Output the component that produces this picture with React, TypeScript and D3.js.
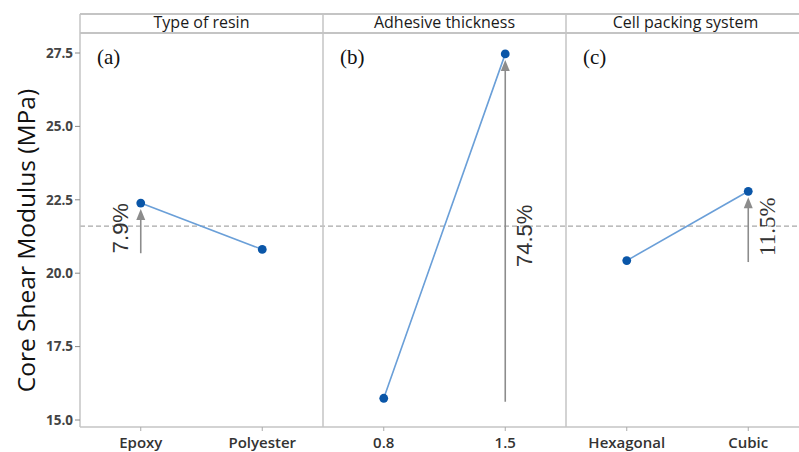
import React from "react";
import * as d3 from "d3";

const factors = ["Type of resin", "Adhesive thickness", "Cell packing system"];
const panelTags = ["(a)", "(b)", "(c)"];
const levelsResin = ["Epoxy", "Polyester"];
const meansResin = [22.39, 20.81];
const levelsThickness = ["0.8", "1.5"];
const meansThickness = [15.74, 27.47];
const levelsPacking = ["Hexagonal", "Cubic"];
const meansPacking = [20.43, 22.79];
const changeLabels = ["7.9%", "74.5%", "11.5%"];
const arrowLevel = [0, 1, 1];
const arrowFrom = [20.68, 15.62, 20.38];
const labelFonts = ["Liberation Sans, Arial, sans-serif", "Liberation Sans, Arial, sans-serif", "Liberation Serif, Times New Roman, serif"];
const grandMean = 21.6;
const yTicks = [15, 17.5, 20, 22.5, 25, 27.5];
const yTitle = "Core Shear Modulus (MPa)";

const W = 799;
const H = 452;
const frameLeft = 80;
const frameTop = 14;
const stripBottom = 33;
const plotBottom = 427;
const panelWidth = 243;
const labelShift = [0, 8, 0];

export default function App() {
  const levels = [levelsResin, levelsThickness, levelsPacking];
  const means = [meansResin, meansThickness, meansPacking];
  const y = d3.scaleLinear().domain([15, 27.5]).range([420, 53]);
  const panelBand = d3
    .scaleBand<number>()
    .domain([0, 1, 2])
    .range([frameLeft, frameLeft + panelWidth * 3])
    .padding(0);
  const line = d3.line<[number, number]>().x((d) => d[0]).y((d) => d[1]);

  const gridGray = "#c4c4c4";
  const fmt = d3.format(".1f");

  return (
    <svg width={W} height={H} style={{ position: "absolute", left: 0, top: 0, background: "#fff" }}>
      <line x1={frameLeft} x2={W} y1={y(grandMean)} y2={y(grandMean)} stroke="#a8a8a8" strokeWidth={1.3} strokeDasharray="5,3" />

      <line x1={frameLeft} x2={W} y1={frameTop} y2={frameTop} stroke={gridGray} strokeWidth={2} />
      <line x1={frameLeft} x2={W} y1={stripBottom} y2={stripBottom} stroke={gridGray} strokeWidth={2} />
      <line x1={frameLeft} x2={W} y1={plotBottom} y2={plotBottom} stroke={gridGray} strokeWidth={1.5} />
      {[0, 1, 2].map((i) => (
        <line key={"v" + i} x1={panelBand(i)!} x2={panelBand(i)!} y1={frameTop} y2={plotBottom} stroke={gridGray} strokeWidth={1.5} />
      ))}

      {yTicks.map((t) => (
        <g key={"yt" + t}>
          <line x1={frameLeft - 5} x2={frameLeft} y1={y(t)} y2={y(t)} stroke="#888" strokeWidth={1} />
          <text x={frameLeft - 7} y={y(t)} dy="0.36em" textAnchor="end" fontFamily="Open Sans, sans-serif" fontWeight={700} fontSize={13.5} fill="#444">
            {fmt(t)}
          </text>
        </g>
      ))}

      <text
        transform={`translate(35,${(78 + 403) / 2}) rotate(-90)`}
        textAnchor="middle"
        fontFamily="Open Sans, sans-serif"
        fontSize={24.5}
        fill="#111"
      >
        {yTitle}
      </text>

      {factors.map((f, i) => {
        const x0 = panelBand(i)!;
        const xs = d3.scalePoint<string>().domain(levels[i]).range([x0, x0 + panelWidth]).padding(0.5);
        const pts: [number, number][] = levels[i].map((l, j) => [xs(l)!, y(means[i][j])]);
        const ax = xs(levels[i][arrowLevel[i]])!;
        const ay1 = y(arrowFrom[i]);
        const ptY = y(means[i][arrowLevel[i]]);
        const tipY = ptY + 6;
        const headH = 11;
        const labelY = (ay1 + ptY) / 2 + labelShift[i];
        return (
          <g key={f}>
            <text x={x0 + panelWidth / 2 - (i === 2 ? 2 : 0)} y={28} textAnchor="middle" fontFamily="Open Sans, sans-serif" fontSize={16} fill="#1a1a1a">
              {f}
            </text>
            <text x={x0 + 17} y={64} fontFamily="Liberation Serif, Times New Roman, serif" fontSize={21} fill="#111">
              {panelTags[i]}
            </text>
            {levels[i].map((l) => (
              <g key={l}>
                <line x1={xs(l)!} x2={xs(l)!} y1={plotBottom} y2={plotBottom + 4} stroke="#aaa" strokeWidth={1} />
                <text x={xs(l)!} y={448} textAnchor="middle" fontFamily="Open Sans, sans-serif" fontWeight={600} fontSize={15} fill="#333">
                  {l}
                </text>
              </g>
            ))}
            <line x1={ax} x2={ax} y1={ay1} y2={tipY + headH - 1} stroke="#8c8c8c" strokeWidth={1.6} />
            <path d={`M${ax},${tipY} L${ax - 4.5},${tipY + headH} L${ax + 4.5},${tipY + headH} Z`} fill="#8c8c8c" />
            <text
              transform={`translate(${ax + (i === 0 ? -13 : 27)},${labelY}) rotate(-90)`}
              textAnchor="middle"
              fontFamily={labelFonts[i]}
              fontSize={i === 2 ? 23 : 22}
              fill="#333"
            >
              {changeLabels[i]}
            </text>
            <path d={line(pts)!} fill="none" stroke="#6a9fd8" strokeWidth={1.6} />
            {pts.map((p, j) => (
              <circle key={j} cx={p[0]} cy={p[1]} r={4.4} fill="#0a56a8" />
            ))}
          </g>
        );
      })}
    </svg>
  );
}
